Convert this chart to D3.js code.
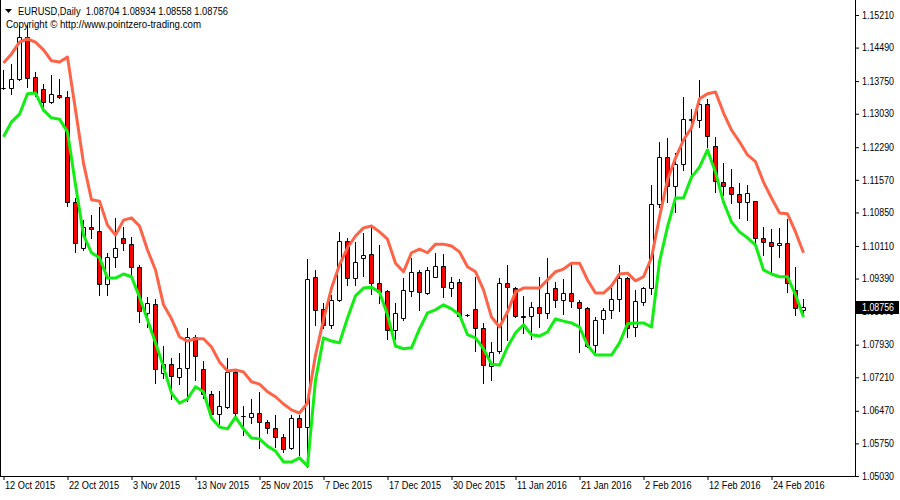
<!DOCTYPE html>
<html><head><meta charset="utf-8">
<script src="https://cdn.jsdelivr.net/npm/d3@7"></script>
<style>
body{margin:0;background:#fff}
svg{display:block}
text{font-family:"Liberation Sans",Arial,sans-serif;fill:#000}
</style>
</head><body>
<svg id="c" width="900" height="500"></svg>
<script>
// ---- data (EURUSD daily) ----
const open=[1.1359,1.1360,1.1380,1.1473,1.1384,1.1358,1.1329,1.1344,1.1340,1.1108,
1.1007,1.1053,1.1044,1.0927,1.0987,1.1029,1.1015,1.0965,1.0863,1.0883,
1.0731,1.0750,1.0722,1.0742,1.0810,1.0739,1.0684,1.0640,1.0656,1.0733,
1.0636,1.0633,1.0642,1.0622,1.0609,1.0589,1.0565,1.0631,1.0611,1.0943,
1.0872,1.0837,1.0892,1.1022,1.0940,1.0985,1.0993,1.0929,1.0912,1.0826,
1.0852,1.0912,1.0954,1.0907,1.0943,1.0967,1.0918,1.0931,1.0859,1.0872,
1.0830,1.0746,1.0779,1.0929,1.0918,1.0856,1.0856,1.0876,1.0863,1.0918,
1.0892,1.0907,1.0887,1.0874,1.0792,1.0850,1.0870,1.0894,1.0940,1.0832,
1.0887,1.0918,1.1104,1.1208,1.1144,1.1192,1.1289,1.1289,1.1325,1.1232,
1.1152,1.1141,1.1126,1.1108,1.1110,1.1029,1.1020,1.1013,1.1018,1.0914,1.08704];
const high=[1.1400,1.1413,1.1497,1.1499,1.1395,1.1369,1.1389,1.1380,1.1353,1.1117,
1.1068,1.1079,1.1097,1.0996,1.1073,1.1053,1.1031,1.0969,1.0898,1.0894,
1.0790,1.0764,1.0775,1.0830,1.0815,1.0757,1.0691,1.0691,1.0764,1.0735,
1.0658,1.0673,1.0689,1.0627,1.0638,1.0596,1.0638,1.0638,1.0982,1.0958,
1.0885,1.0903,1.1042,1.1029,1.1020,1.1040,1.1057,1.1013,1.0914,1.0885,
1.0940,1.0985,1.0958,1.0965,1.0996,1.0993,1.0943,1.0938,1.0861,1.0943,
1.0841,1.0799,1.0940,1.0969,1.0920,1.0901,1.0887,1.0943,1.0985,1.0931,
1.0938,1.0976,1.0892,1.0876,1.0854,1.0874,1.0918,1.0969,1.0943,1.0914,
1.0920,1.1146,1.1241,1.1249,1.1216,1.1340,1.1314,1.1378,1.1336,1.1252,
1.1194,1.1181,1.1150,1.1146,1.1111,1.1053,1.1048,1.1051,1.1071,1.0965,1.08934];
const low=[1.1358,1.1347,1.1378,1.1362,1.1342,1.1318,1.1327,1.1338,1.1099,1.0998,
1.1002,1.1029,1.0903,1.0903,1.0965,1.1002,1.0947,1.0843,1.0832,1.0709,
1.0720,1.0673,1.0706,1.0669,1.0715,1.0675,1.0633,1.0618,1.0653,1.0638,
1.0594,1.0620,1.0565,1.0598,1.0567,1.0556,1.0563,1.0549,1.0523,1.0837,
1.0830,1.0830,1.0890,1.0925,1.0925,1.0945,1.0905,1.0885,1.0806,1.0806,
1.0848,1.0901,1.0870,1.0905,1.0943,1.0898,1.0901,1.0854,1.0856,1.0779,
1.0709,1.0715,1.0775,1.0803,1.0855,1.0819,1.0806,1.0832,1.0852,1.0876,
1.0861,1.0876,1.0777,1.0788,1.0777,1.0819,1.0852,1.0867,1.0810,1.0812,
1.0881,1.0905,1.1097,1.1108,1.1086,1.1179,1.1168,1.1274,1.1230,1.1130,
1.1124,1.1106,1.1073,1.1068,1.1018,1.0991,1.0954,1.0987,1.0909,1.0858,1.08558];
const close=[1.1360,1.1380,1.1473,1.1382,1.1349,1.1329,1.1347,1.1340,1.1108,1.1018,
1.1053,1.1048,1.0927,1.0987,1.1007,1.1018,1.0965,1.0867,1.0885,1.0739,
1.0750,1.0724,1.0742,1.0810,1.0768,1.0684,1.0640,1.0658,1.0733,1.0642,
1.0635,1.0642,1.0622,1.0609,1.0589,1.0563,1.0631,1.0611,1.0938,1.0870,
1.0837,1.0892,1.1022,1.0940,1.0976,1.0991,1.0929,1.0909,1.0826,1.0863,
1.0914,1.0954,1.0909,1.0958,1.0967,1.0920,1.0931,1.0856,1.0858,1.0830,
1.0748,1.0777,1.0929,1.0920,1.0856,1.0855,1.0876,1.0863,1.0907,1.0892,
1.0907,1.0890,1.0874,1.0790,1.0848,1.0870,1.0894,1.0940,1.0830,1.0890,
1.0918,1.1104,1.1208,1.1144,1.1192,1.1291,1.1291,1.1325,1.1254,1.1155,
1.1144,1.1126,1.1108,1.1128,1.1029,1.1020,1.1011,1.1018,1.0929,1.0874,1.08756];
const upperBand=[1.1415,1.1435,1.1461,1.1468,1.1461,1.1444,1.1420,1.1417,1.1428,1.1311,
1.1194,1.1113,1.1110,1.1057,1.1035,1.1068,1.1073,1.1055,1.1002,1.0958,
1.0881,1.0850,1.0810,1.0801,1.0806,1.0806,1.0788,1.0755,1.0735,1.0737,
1.0733,1.0711,1.0706,1.0689,1.0678,1.0662,1.0649,1.0642,1.0664,1.0770,
1.0848,1.0918,1.0969,1.1007,1.1033,1.1051,1.1055,1.1042,1.1026,1.0973,
1.0954,1.0996,1.1004,1.0996,1.1015,1.1015,1.1011,1.0998,1.0965,1.0954,
1.0914,1.0854,1.0832,1.0865,1.0909,1.0918,1.0918,1.0918,1.0936,1.0954,
1.0960,1.0973,1.0973,1.0936,1.0907,1.0907,1.0923,1.0949,1.0951,1.0934,
1.0943,1.0985,1.1075,1.1157,1.1205,1.1245,1.1272,1.1336,1.1347,1.1351,
1.1305,1.1267,1.1241,1.1212,1.1197,1.1152,1.1117,1.1084,1.1082,1.1042,1.0996];
const lowerBand=[1.1252,1.1285,1.1302,1.1347,1.1349,1.1311,1.1294,1.1291,1.1263,1.1146,
1.1035,1.0996,1.0985,1.0940,1.0940,1.0949,1.0943,1.0898,1.0848,1.0797,
1.0744,1.0686,1.0664,1.0673,1.0700,1.0689,1.0631,1.0611,1.0607,1.0633,
1.0607,1.0587,1.0585,1.0569,1.0558,1.0534,1.0534,1.0543,1.0525,1.0715,
1.0808,1.0801,1.0797,1.0852,1.0901,1.0918,1.0920,1.0909,1.0859,1.0790,
1.0784,1.0786,1.0828,1.0863,1.0870,1.0881,1.0872,1.0859,1.0815,1.0808,
1.0784,1.0750,1.0748,1.0788,1.0819,1.0837,1.0815,1.0812,1.0821,1.0850,
1.0845,1.0841,1.0832,1.0792,1.0770,1.0770,1.0770,1.0797,1.0839,1.0841,
1.0841,1.0832,1.0976,1.1053,1.1117,1.1117,1.1163,1.1185,1.1223,1.1174,
1.1108,1.1064,1.1042,1.1029,1.1013,1.0958,1.0949,1.0943,1.0943,1.0903,1.0854];
const dateLabels=["12 Oct 2015","22 Oct 2015","3 Nov 2015","13 Nov 2015","25 Nov 2015","7 Dec 2015","17 Dec 2015","30 Dec 2015","11 Jan 2016","21 Jan 2016","2 Feb 2016","12 Feb 2016","24 Feb 2016"];
const dateIndex=[0,8,16,24,32,40,48,56,64,72,80,88,96];
const priceTicks=[1.15210,1.14490,1.13750,1.13030,1.12290,1.11570,1.10850,1.10110,1.09390,1.08670,1.07930,1.07210,1.06470,1.05750,1.05030];
const symbol="EURUSD,Daily";
const lastPrice=1.08756;

// ---- chart ----
const svg=d3.select("#c");
const W=900,H=500, right=855, bottom=476;
const x=d3.scaleLinear().domain([0,100]).range([3.5,803.5]);
const y=d3.scaleLinear().domain([1.05030,1.15210]).range([476,15]);

svg.append("defs").append("clipPath").attr("id","clip")
  .append("rect").attr("x",1).attr("y",0).attr("width",right-1).attr("height",bottom);

const plot=svg.append("g").attr("clip-path","url(#clip)");
const n=close.length;
const idx=d3.range(n);
const candles=plot.append("g");
idx.forEach(i=>{
  const cx=x(i);
  const yh=Math.round(y(high[i])), yl=Math.round(y(low[i]));
  candles.append("line").attr("x1",cx).attr("x2",cx).attr("y1",yh).attr("y2",yl+1)
    .attr("stroke","#000").attr("stroke-width",1);
  const yt=Math.round(y(Math.max(open[i],close[i])))+0.5;
  const yb=Math.round(y(Math.min(open[i],close[i])))+0.5;
  const bull=close[i]>=open[i];
  candles.append("path")
    .attr("d",`M${cx-2},${yt}H${cx+2}V${yb}H${cx-2}Z`)
    .attr("fill",bull?"#ffffff":"#ff0000")
    .attr("stroke","#000").attr("stroke-width",1);
});

const line=d3.line().x((d,i)=>x(i)).y(d=>y(d));
plot.append("path").datum(upperBand).attr("d",line).attr("fill","none")
  .attr("stroke","#ff6347").attr("stroke-width",3).attr("stroke-linejoin","round");
plot.append("path").datum(lowerBand).attr("d",line).attr("fill","none")
  .attr("stroke","#11ee11").attr("stroke-width",3).attr("stroke-linejoin","round");

// frame
svg.append("line").attr("x1",0.5).attr("x2",0.5).attr("y1",0).attr("y2",bottom+0.5).attr("stroke","#000");
svg.append("line").attr("x1",0).attr("x2",right+0.5).attr("y1",bottom+0.5).attr("y2",bottom+0.5).attr("stroke","#000");
svg.append("line").attr("x1",right+0.5).attr("x2",right+0.5).attr("y1",0).attr("y2",bottom+0.5).attr("stroke","#000");

// price axis
const ya=svg.append("g").attr("transform",`translate(${right},0)`)
  .call(d3.axisRight(y).tickValues(priceTicks).tickSize(4).tickSizeOuter(0).tickFormat(d3.format(".5f")));
ya.select(".domain").remove();
ya.selectAll("text").attr("font-size",10).attr("font-family","Liberation Sans, Arial, sans-serif")
  .attr("textLength",32).attr("lengthAdjust","spacingAndGlyphs");

// time axis
const xa=svg.append("g").attr("transform",`translate(0,${bottom})`)
  .call(d3.axisBottom(x).tickValues(dateIndex).tickSize(4).tickSizeOuter(0).tickFormat((d,i)=>dateLabels[i]));
xa.select(".domain").remove();
xa.selectAll("text").attr("font-size",10).attr("font-family","Liberation Sans, Arial, sans-serif")
  .attr("text-anchor","start").attr("dx",1).attr("y",6)
  .each(function(){const L=this.getComputedTextLength();d3.select(this).attr("textLength",L*0.92).attr("lengthAdjust","spacingAndGlyphs");});

// current price tag
const yp=Math.round(y(lastPrice));
svg.append("rect").attr("x",right+1).attr("y",yp-6).attr("width",W-right-2).attr("height",13).attr("fill","#000");
svg.append("text").attr("x",right+7).attr("y",yp+4).attr("font-size",10).style("fill","#fff")
  .attr("textLength",32).attr("lengthAdjust","spacingAndGlyphs").text(d3.format(".5f")(lastPrice));

// header
svg.append("path").attr("d","M5,9L12,9L8.5,13Z").attr("fill","#000");
svg.append("text").attr("x",18).attr("y",15).attr("font-size",11).style("white-space","pre")
  .attr("textLength",210).attr("lengthAdjust","spacingAndGlyphs")
  .text(`${symbol}  ${open[n-1].toFixed(5)} ${high[n-1].toFixed(5)} ${low[n-1].toFixed(5)} ${close[n-1].toFixed(5)}`);
svg.append("text").attr("x",6).attr("y",28).attr("font-size",11)
  .attr("textLength",195).attr("lengthAdjust","spacingAndGlyphs")
  .text("Copyright © http://www.pointzero-trading.com");
</script>
</body></html>
